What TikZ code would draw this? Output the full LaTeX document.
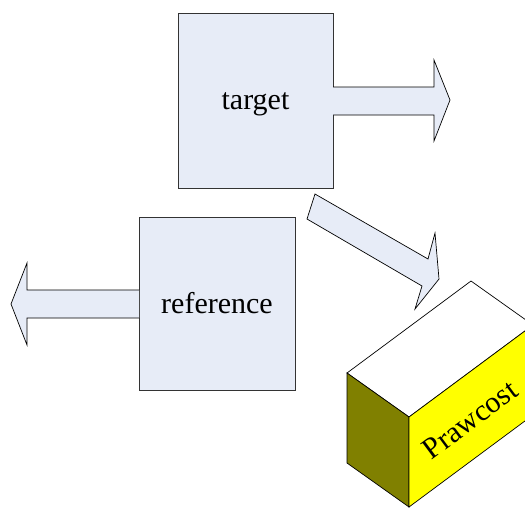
\documentclass[tikz,border=0pt]{standalone}
\usepackage{fontspec}
\setmainfont{Liberation Serif}
\definecolor{paleblue}{RGB}{231,236,247}
\definecolor{olivefill}{RGB}{128,128,0}
\definecolor{yellowfill}{RGB}{255,255,0}
% text set on a given baseline offset from the node centre
\newcommand{\onbase}[2]{\raisebox{-#1}[0pt][0pt]{#2}}
\begin{document}
\begin{tikzpicture}[x=1pt,y=-1pt,
  blockbox/.style={draw=black!80, line width=0.7pt, fill=paleblue, inner sep=0pt,
    font=\fontsize{30}{30}\selectfont},
  blockarrow/.style={draw=black, line width=0.7pt, fill=paleblue, line join=miter},
  face/.style={draw=black, line width=0.7pt, line join=miter}]
\useasboundingbox (0,0) rectangle (525,507);
\clip (0,0) rectangle (525,507);

% the two boxes
\node[blockbox, minimum width=155pt, minimum height=175pt] (target) at (255.5,100.5) {\onbase{8.5pt}{target}};
\node[blockbox, minimum width=156pt, minimum height=173pt] (reference) at (217,303.5) {\onbase{9.5pt}{reference}};

% block arrows
\draw[blockarrow] (333,87) -- (434,87) -- (434,60) -- (450,100) -- (434,141)
  -- (434,115) -- (333,115);
\draw[blockarrow] (139,290) -- (27,290) -- (27,263) -- (11,304) -- (27,345)
  -- (27,318) -- (139,318);
\draw[blockarrow] (315,194) -- (428,259) -- (435,233) -- (439,279) -- (415,309)
  -- (422,286) -- (307,219) -- cycle;

% the Prawcost block
\draw[face, fill=white] (347,373) -- (471,281) -- (533,325) -- (409,417) -- cycle;
\draw[face, fill=olivefill] (347,373) -- (409,417) -- (409,507) -- (347,463) -- cycle;
\draw[face, fill=yellowfill] (409,417) -- (533,325) -- (533,415) -- (409,507) -- cycle;
\node[rotate=36.6, font=\fontsize{30}{30}\selectfont, inner sep=0pt] (prawcost) at (470,420) {Prawcost};
\end{tikzpicture}
\end{document}
